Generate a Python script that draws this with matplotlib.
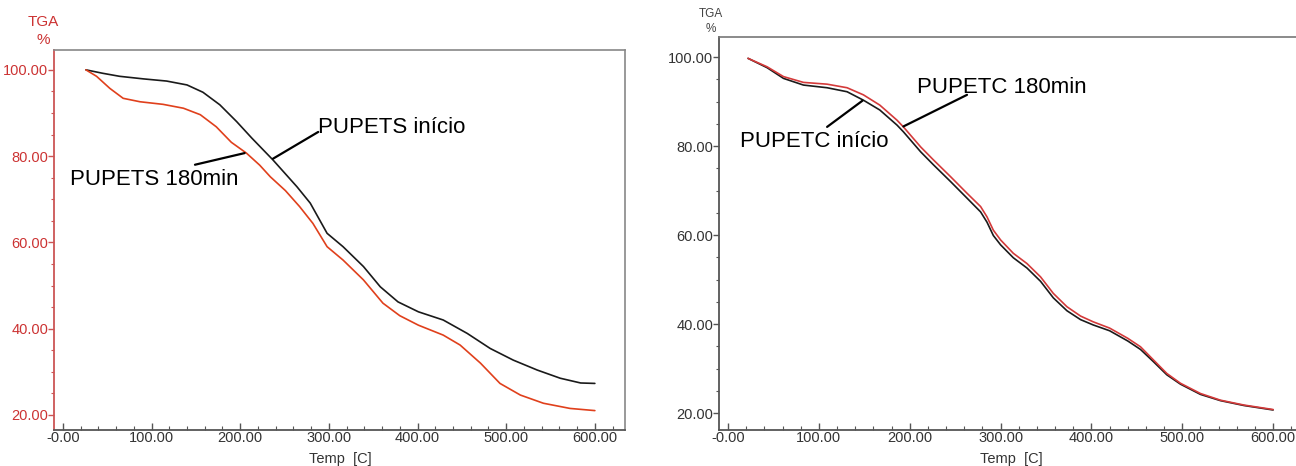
import matplotlib
matplotlib.use("Agg")
import matplotlib.pyplot as plt
from matplotlib.ticker import MultipleLocator

plt.rcParams['font.family'] = ['Liberation Sans', 'DejaVu Sans']

# ---------------- data ----------------
xticks = [0, 100, 200, 300, 400, 500, 600]
xticklabels = ["-0.00", "100.00", "200.00", "300.00", "400.00", "500.00", "600.00"]
yticks = [20, 40, 60, 80, 100]
yticklabels = ["20.00", "40.00", "60.00", "80.00", "100.00"]

# Left panel: PUPETS
s_inicio_T = [26, 45, 64, 91, 117, 140, 158, 177, 196, 213, 237, 264, 279, 298, 316, 339,
              358, 378, 401, 429, 456, 482, 508, 535, 561, 584, 600]
s_inicio_W = [100.0, 99.2, 98.5, 97.9, 97.4, 96.5, 94.8, 91.9, 88.0, 84.2, 79.1, 72.9, 69.1,
              62.1, 59.0, 54.4, 49.7, 46.2, 43.9, 42.0, 38.9, 35.4, 32.7, 30.4, 28.5, 27.4, 27.3]
s_180_T = [26, 38, 53, 68, 87, 113, 136, 155, 173, 190, 207, 222, 234, 251, 267, 282, 298,
           316, 339, 361, 380, 401, 429, 448, 471, 493, 516, 542, 572, 600]
s_180_W = [100.0, 98.5, 95.7, 93.4, 92.6, 92.0, 91.1, 89.6, 86.8, 83.2, 80.7, 77.9, 75.2,
           72.0, 68.3, 64.4, 59.0, 55.9, 51.3, 45.9, 43.0, 40.8, 38.5, 36.2, 32.0, 27.3,
           24.6, 22.7, 21.5, 21.0]

# Right panel: PUPETC
c_T = [22, 43, 61, 83, 109, 131, 149, 167, 186, 193, 212, 226, 245, 263, 278, 285, 292,
       300, 314, 329, 344, 358, 373, 388, 402, 420, 440, 454, 468, 483, 498, 520, 542,
       568, 600]
c_180_W = [99.7, 97.8, 95.6, 94.3, 93.9, 93.1, 91.5, 89.2, 85.8, 84.3, 79.8, 76.9, 73.1,
           69.4, 66.4, 64.1, 61.1, 58.9, 55.9, 53.6, 50.6, 46.9, 43.9, 41.8, 40.5, 39.1,
           36.8, 34.9, 32.0, 28.9, 26.7, 24.4, 22.9, 21.8, 20.8]
c_inicio_W = [99.7, 97.6, 95.2, 93.7, 93.1, 92.2, 90.3, 88.1, 84.7, 83.2, 78.7, 75.8, 72.0,
              68.3, 65.2, 62.9, 59.9, 57.8, 54.9, 52.6, 49.6, 45.9, 43.0, 41.0, 39.8, 38.5,
              36.2, 34.3, 31.6, 28.6, 26.5, 24.2, 22.8, 21.7, 20.7]

# ---------------- figure ----------------
W, H = 1296, 466
fig = plt.figure(figsize=(W / 100, H / 100), dpi=100)


def px_axes(l, t, r, b):
    return fig.add_axes([l / W, (H - b) / H, (r - l) / W, (b - t) / H])


def style(ax, ylim, label_color, left_spine_color, frame_color, show_right):
    ax.set_xlim(-10, 634)
    ax.set_ylim(*ylim)
    ax.set_xticks(xticks)
    ax.set_xticklabels(xticklabels)
    ax.set_yticks(yticks)
    ax.set_yticklabels(yticklabels)
    ax.xaxis.set_minor_locator(MultipleLocator(20))
    ax.yaxis.set_minor_locator(MultipleLocator(5))
    ax.tick_params(axis='x', which='major', direction='in', length=5, width=1,
                   colors='#555555', labelcolor='#333333', labelsize=10.5, pad=1)
    ax.tick_params(axis='x', which='minor', direction='in', length=3, width=0.8, colors='#555555')
    ax.tick_params(axis='y', which='major', direction='out', length=4, width=1,
                   colors=left_spine_color, labelcolor=label_color, labelsize=10.5, pad=0)
    ax.tick_params(axis='y', which='minor', direction='out', length=2, width=0.8,
                   colors=left_spine_color)
    ax.tick_params(top=False, right=False)
    for s in ['top', 'right']:
        ax.spines[s].set_color(frame_color)
        ax.spines[s].set_linewidth(1.2)
    ax.spines['right'].set_visible(show_right)
    ax.spines['left'].set_color(left_spine_color)
    ax.spines['left'].set_linewidth(1.3)
    ax.spines['bottom'].set_color('#555555')
    ax.spines['bottom'].set_linewidth(1.3)


line_kw = dict(lw=1.2, solid_joinstyle='round', solid_capstyle='round')

# Left panel
ax1 = px_axes(54, 50, 625, 430)
style(ax1, (16.5, 104.6), '#cc3333', '#cc5555', '#888888', True)
ax1.plot(s_inicio_T, s_inicio_W, color='#1a1a1a', **line_kw)
ax1.plot(s_180_T, s_180_W, color='#e0401c', **line_kw)
ax1.text(288, 85.4, "PUPETS início", fontsize=16, ha='left', va='baseline', color='black')
ax1.annotate('', xy=(237, 79.4), xytext=(288, 85.6),
             arrowprops=dict(arrowstyle='-', color='black', lw=1.6, shrinkA=0, shrinkB=0))
ax1.text(8, 73.3, "PUPETS 180min", fontsize=16, ha='left', va='baseline', color='black')
ax1.annotate('', xy=(205, 80.7), xytext=(149, 78.0),
             arrowprops=dict(arrowstyle='-', color='black', lw=1.6, shrinkA=0, shrinkB=0))
fig.text(43 / W, 1 - 22 / H, "TGA", color='#cc3333', fontsize=11, ha='center', va='center')
fig.text(43 / W, 1 - 40 / H, "%", color='#cc3333', fontsize=11, ha='center', va='center')
fig.text(340 / W, 1 - 459 / H, "Temp  [C]", color='#333333', fontsize=10.5, ha='center', va='center')

# Right panel
ax2 = px_axes(719, 37, 1304, 430)
style(ax2, (16.2, 104.5), '#333333', '#555555', '#777777', False)
ax2.plot(c_T, c_inicio_W, color='#1a1a1a', **line_kw)
ax2.plot(c_T, c_180_W, color='#d43a3a', **line_kw)
ax2.text(208, 91.9, "PUPETC 180min", fontsize=16, ha='left', va='baseline', color='black')
ax2.annotate('', xy=(193, 84.4), xytext=(263, 91.5),
             arrowprops=dict(arrowstyle='-', color='black', lw=1.6, shrinkA=0, shrinkB=0))
ax2.text(13, 79.8, "PUPETC início", fontsize=16, ha='left', va='baseline', color='black')
ax2.annotate('', xy=(148, 90.2), xytext=(109, 84.3),
             arrowprops=dict(arrowstyle='-', color='black', lw=1.6, shrinkA=0, shrinkB=0))
fig.text(711 / W, 1 - 14 / H, "TGA", color='#444444', fontsize=8.5, ha='center', va='center')
fig.text(711 / W, 1 - 29 / H, "%", color='#444444', fontsize=8.5, ha='center', va='center')
fig.text(1011 / W, 1 - 459 / H, "Temp  [C]", color='#333333', fontsize=10.5, ha='center', va='center')

fig.savefig("out.png", dpi=100, facecolor='white')
